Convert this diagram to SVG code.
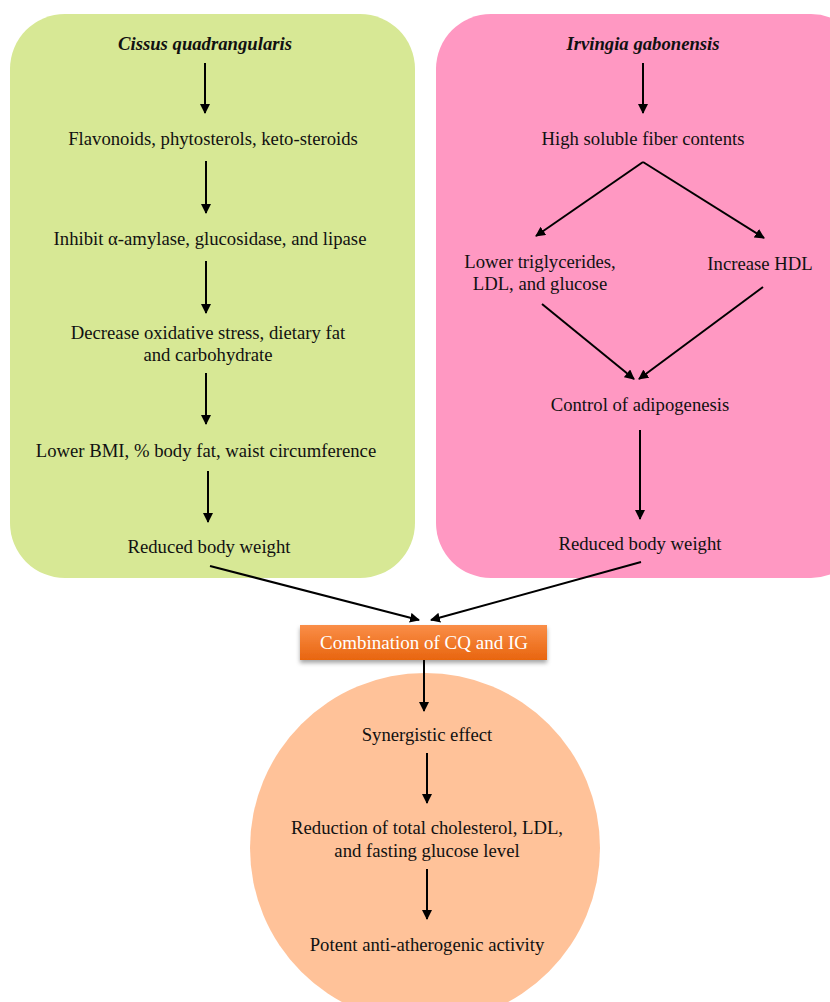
<svg xmlns="http://www.w3.org/2000/svg" width="830" height="1002" viewBox="0 0 830 1002">
<defs>
<marker id="ah" markerWidth="10" markerHeight="10" refX="9" refY="5" orient="auto" markerUnits="userSpaceOnUse">
<path d="M0,0 L10,5 L0,10 z" fill="#000"/>
</marker>
<linearGradient id="og" x1="0" y1="0" x2="0" y2="1">
<stop offset="0" stop-color="#FA8E48"/>
<stop offset="1" stop-color="#E8650F"/>
</linearGradient>
<filter id="sh" x="-10%" y="-30%" width="120%" height="170%">
<feDropShadow dx="0" dy="3" stdDeviation="2" flood-color="#000" flood-opacity="0.35"/>
</filter>
</defs>
<style>
text{font-family:'Liberation Serif','Times New Roman',Times,serif;font-size:18.7px;fill:#111;text-anchor:middle}
.t{font-weight:bold;font-style:italic}
.w{fill:#fff;font-size:19px}
.c line{stroke:#000;stroke-width:2;marker-end:url(#ah)}
</style>
<rect width="830" height="1002" fill="#fff"/>
<g id="cq-panel">
<rect x="10" y="14" width="405" height="564" rx="55" fill="#D7E895"/>
</g>
<g id="ig-panel">
<rect x="436" y="14" width="430" height="564" rx="55" fill="#FF98C2"/>
</g>
<g id="result-panel">
<circle cx="425" cy="848" r="175" fill="#FFC299"/>
</g>
<g id="cq-title"><text x="205" y="50" class="t">Cissus quadrangularis</text></g>
<g id="cq1"><text x="213" y="145">Flavonoids, phytosterols, keto-steroids</text></g>
<g id="cq2"><text x="210" y="245">Inhibit α-amylase, glucosidase, and lipase</text></g>
<g id="cq3"><text x="208" y="339">Decrease oxidative stress, dietary fat</text><text x="208" y="361">and carbohydrate</text></g>
<g id="cq4"><text x="206" y="457">Lower BMI, % body fat, waist circumference</text></g>
<g id="cq5"><text x="209" y="553">Reduced body weight</text></g>
<g id="ig-title"><text x="643" y="50" class="t">Irvingia gabonensis</text></g>
<g id="ig1"><text x="643" y="145">High soluble fiber contents</text></g>
<g id="ig2"><text x="540" y="268">Lower triglycerides,</text><text x="540" y="290">LDL, and glucose</text></g>
<g id="ig3"><text x="760" y="270">Increase HDL</text></g>
<g id="ig4"><text x="640" y="411">Control of adipogenesis</text></g>
<g id="ig5"><text x="640" y="550">Reduced body weight</text></g>
<g id="combo">
<rect x="300" y="625" width="247" height="35" fill="url(#og)" filter="url(#sh)"/>
<text x="424" y="649" class="w">Combination of CQ and IG</text>
</g>
<g id="r1"><text x="427" y="741">Synergistic effect</text></g>
<g id="r2"><text x="427" y="834">Reduction of total cholesterol, LDL,</text><text x="427" y="857">and fasting glucose level</text></g>
<g id="r3"><text x="427" y="951">Potent anti-atherogenic activity</text></g>
<g id="connectors" class="c">
<line x1="205" y1="63" x2="205" y2="113"/>
<line x1="206" y1="161" x2="206" y2="213"/>
<line x1="206" y1="261" x2="206" y2="313"/>
<line x1="206" y1="373" x2="206" y2="424"/>
<line x1="208" y1="471" x2="208" y2="522"/>
<line x1="643" y1="63" x2="643" y2="113"/>
<line x1="643" y1="162" x2="536" y2="236"/>
<line x1="643" y1="162" x2="764" y2="238"/>
<line x1="542" y1="304" x2="634" y2="379"/>
<line x1="763" y1="287" x2="639" y2="379"/>
<line x1="640" y1="430" x2="640" y2="519"/>
<line x1="210" y1="566" x2="419" y2="620"/>
<line x1="641" y1="562" x2="431" y2="620"/>
<line x1="424" y1="660" x2="424" y2="711"/>
<line x1="427" y1="753" x2="427" y2="803"/>
<line x1="427" y1="869" x2="427" y2="919"/>
</g>
</svg>
